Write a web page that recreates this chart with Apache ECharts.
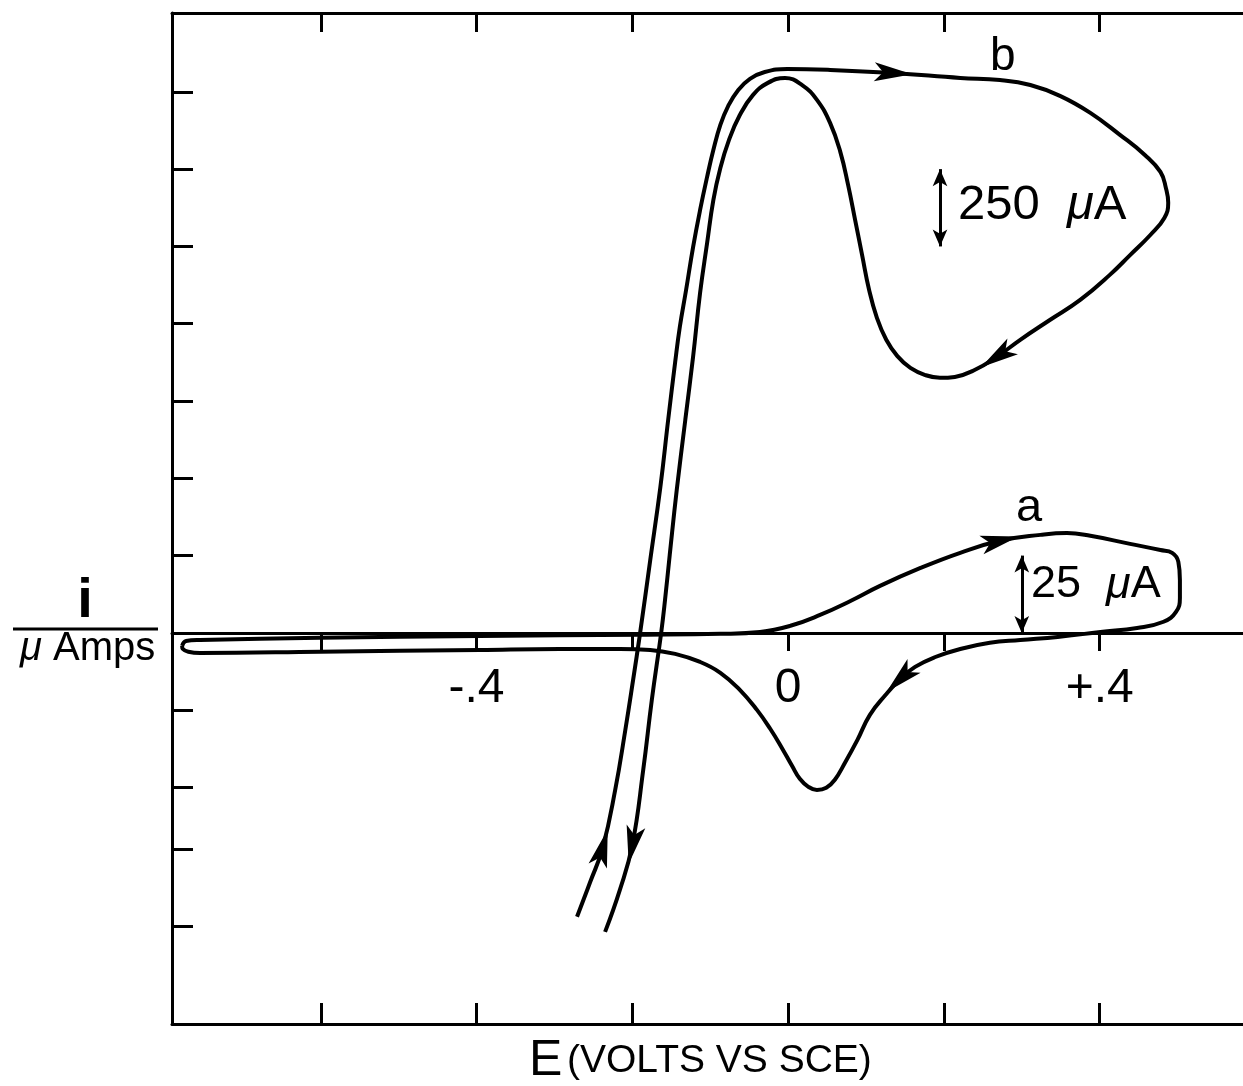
<!DOCTYPE html>
<html><head><meta charset="utf-8">
<script src="https://cdn.jsdelivr.net/npm/echarts@6/dist/echarts.min.js"></script>
<style>html,body{margin:0;padding:0;background:#fff}#c{width:1243px;height:1086px}</style>
</head><body><div id="c"></div>
<script>
// Curve a : current in μA (25 μA per division), potential in V vs SCE
const curveA = [
[-0.778,-4.2],[-0.773,-2.6],[-0.755,-2.3],[-0.601,-1.6],[-0.396,-1.0],[-0.190,-0.6],
[-0.087,-0.3],[-0.036,0.3],[0.003,2.3],[0.041,5.8],[0.080,10.3],[0.118,15.2],
[0.170,21.0],[0.221,25.9],[0.272,29.8],[0.324,31.7],[0.358,32.3],[0.388,31.4],
[0.439,28.8],[0.478,26.8],[0.493,25.9],[0.501,23.0],[0.503,17.1],[0.503,11.3],
[0.498,6.8],[0.482,3.6],[0.448,1.6],[0.401,0.3],[0.346,-1.3],[0.298,-2.3],
[0.259,-3.2],[0.221,-5.2],[0.189,-7.8],[0.163,-11.0],[0.144,-14.9],[0.125,-20.1],
[0.105,-26.5],[0.089,-34.6],[0.073,-42.0],[0.060,-47.5],[0.049,-50.1],[0.037,-50.8],
[0.026,-49.8],[0.015,-47.2],[0.005,-43.0],[-0.008,-37.2],[-0.023,-31.0],[-0.040,-24.9],
[-0.062,-18.4],[-0.087,-12.9],[-0.113,-9.4],[-0.145,-6.8],[-0.177,-5.5],[-0.216,-5.2],
[-0.293,-5.2],[-0.396,-5.5],[-0.601,-6.1],[-0.755,-6.5],[-0.770,-6.1],[-0.777,-5.2],
[-0.778,-4.2]
];
// Curve b : current in μA (250 μA per division)
const curveB = [
[-0.271,-918],[-0.254,-805],[-0.238,-695],[-0.222,-508],[-0.209,-314],[-0.199,-152],
[-0.190,0],[-0.177,236],[-0.164,472],[-0.154,689],[-0.145,876],[-0.139,990],
[-0.131,1109],[-0.122,1248],[-0.113,1368],[-0.104,1475],[-0.096,1562],[-0.087,1643],
[-0.077,1704],[-0.064,1756],[-0.049,1792],[-0.030,1814],[-0.001,1824],[0.054,1821],
[0.135,1811],[0.221,1795],[0.272,1788],[0.311,1772],[0.349,1737],[0.388,1682],
[0.426,1611],[0.458,1546],[0.478,1491],[0.485,1439],[0.488,1391],[0.483,1342],
[0.465,1287],[0.439,1222],[0.413,1158],[0.375,1077],[0.336,1012],[0.298,948],
[0.268,893],[0.240,851],[0.214,828],[0.195,825],[0.176,834],[0.157,857],
[0.140,896],[0.126,948],[0.114,1019],[0.104,1109],[0.095,1222],[0.086,1336],
[0.077,1449],[0.067,1556],[0.054,1649],[0.037,1724],[0.018,1772],[-0.004,1795],
[-0.026,1779],[-0.045,1740],[-0.062,1675],[-0.076,1594],[-0.087,1504],[-0.096,1400],
[-0.104,1261],[-0.113,1100],[-0.122,893],[-0.132,689],[-0.143,462],[-0.152,252],
[-0.158,107],[-0.163,0],[-0.175,-217],[-0.186,-443],[-0.200,-686],[-0.216,-831],
[-0.235,-967]
];
// indices of the points that carry a direction arrow
const arrowIdxA = [14, 34];
const arrowIdxB = [2, 24, 42, 76];
// axis ticks / labels
const xTickValues = [-0.6, -0.4, -0.2, 0, 0.2, 0.4];
const xLabelValues = [-0.4, 0, 0.4];
const yTickValuesA = [175, 150, 125, 100, 75, 50, 25, -25, -50, -70, -95];
// scale bars: [potential, from μA, to μA]
const scaleBarA = [0.300, 0, 25];
const scaleBarB = [0.195, 1250, 1500];

const X_MIN = -0.791, X_MAX = 0.584;
const YA_MIN = -126.5, YA_MAX = 200.5;
const YB_MIN = -1265, YB_MAX = 2005;
const GRID = { left: 172, right: 0, top: 13, bottom: 62 };
const FONT = '"Liberation Sans", Arial, sans-serif';
const BLACK = '#000';

function fmtV(v){ if (Math.abs(v) < 1e-9) return '0'; const s = String(Math.abs(v)).replace(/^0\./, '.'); return (v < 0 ? '-' : '+') + s; }

const chartH = 1086;
const gridH = chartH - GRID.top - GRID.bottom;
const zeroFromBottom = (0 - YA_MIN) / (YA_MAX - YA_MIN) * gridH;

const frameLine = { lineStyle: { color: BLACK, width: 3 } };
const chart = echarts.init(document.getElementById('c'), null, { renderer: 'canvas' });
const arrowPath = 'path://M8,0 L16,34 L8,26 L0,34 Z';

function scaleBar(b){
  return {
    silent: true, symbol: ['arrow', 'arrow'], symbolSize: [11, 17],
    lineStyle: { color: BLACK, width: 3, type: 'solid' }, label: { show: false },
    data: [[{ coord: [b[0], b[1]] }, { coord: [b[0], b[2]] }]]
  };
}
function muText(x, y, pre, post, size){
  return { type: 'text', x: x, y: y, style: {
    text: pre + '{m|μ}' + post, font: size + 'px ' + FONT, fill: BLACK,
    textAlign: 'left', textVerticalAlign: 'middle',
    rich: { m: { fontStyle: 'italic', fontSize: size, fontFamily: FONT, fill: BLACK } } } };
}

const option = {
  animation: false,
  backgroundColor: '#fff',
  grid: Object.assign({ containLabel: false, outerBoundsMode: 'none' }, GRID),
  xAxis: [
    { type: 'value', min: X_MIN, max: X_MAX, position: 'bottom', offset: -zeroFromBottom,
      axisLine: { onZero: false, lineStyle: { color: BLACK, width: 3 } },
      axisTick: { show: true, inside: false, length: 18, customValues: xTickValues, lineStyle: { color: BLACK, width: 3 } },
      axisLabel: { customValues: xLabelValues, formatter: fmtV, fontSize: 48, color: BLACK, fontFamily: FONT, margin: 32 },
      splitLine: { show: false } },
    { type: 'value', min: X_MIN, max: X_MAX, position: 'top',
      axisLine: Object.assign({ onZero: false }, frameLine),
      axisTick: { show: true, inside: true, length: 19, customValues: xTickValues, lineStyle: { color: BLACK, width: 3 } },
      axisLabel: { show: false }, splitLine: { show: false } },
    { type: 'value', min: X_MIN, max: X_MAX, position: 'bottom',
      axisLine: Object.assign({ onZero: false }, frameLine),
      axisTick: { show: true, inside: true, length: 21, customValues: xTickValues, lineStyle: { color: BLACK, width: 3 } },
      axisLabel: { show: false }, splitLine: { show: false } }
  ],
  yAxis: [
    { type: 'value', min: YA_MIN, max: YA_MAX, position: 'left',
      axisLine: Object.assign({ onZero: false }, frameLine),
      axisTick: { show: true, inside: true, length: 21, customValues: yTickValuesA, lineStyle: { color: BLACK, width: 3 } },
      axisLabel: { show: false }, splitLine: { show: false } },
    { type: 'value', min: YB_MIN, max: YB_MAX, show: false, position: 'left',
      axisLine: { onZero: false }, splitLine: { show: false } }
  ],
  series: [
    { name: 'a', type: 'line', xAxisIndex: 0, yAxisIndex: 0, data: curveA, showSymbol: false, symbol: 'none',
      smooth: 0.45, lineStyle: { color: BLACK, width: 4 }, silent: true, z: 3, markLine: scaleBar(scaleBarA) },
    { name: 'b', type: 'line', xAxisIndex: 0, yAxisIndex: 1, data: curveB, showSymbol: false, symbol: 'none',
      smooth: 0.45, lineStyle: { color: BLACK, width: 4 }, silent: true, z: 3, markLine: scaleBar(scaleBarB) }
  ],
  graphic: [
    { type: 'text', x: 990, y: 57, style: { text: 'b', font: '46px ' + FONT, fill: BLACK, textAlign: 'left', textVerticalAlign: 'middle' } },
    { type: 'text', x: 1016, y: 508, style: { text: 'a', font: '47px ' + FONT, fill: BLACK, textAlign: 'left', textVerticalAlign: 'middle' } },
    muText(958, 205, '250  ', 'A', 49),
    muText(1031, 585, '25  ', 'A', 45),
    { type: 'text', x: 85, y: 602, style: { text: 'i', font: 'bold 56px ' + FONT, fill: BLACK, textAlign: 'center', textVerticalAlign: 'middle' } },
    { type: 'line', shape: { x1: 13, y1: 629, x2: 158, y2: 629 }, style: { stroke: BLACK, lineWidth: 3 } },
    muText(20, 649, '', ' Amps', 40),
    { type: 'text', x: 529, y: 1061, style: { text: 'E', font: '50px ' + FONT, fill: BLACK, textAlign: 'left', textVerticalAlign: 'middle' } },
    { type: 'text', x: 567, y: 1061, style: { text: '(VOLTS VS SCE)', font: '39px ' + FONT, fill: BLACK, textAlign: 'left', textVerticalAlign: 'middle' } }
  ]
};
chart.setOption(option);

function arrowData(points, idxs, seriesIndex){
  return idxs.map(function(i){
    const p0 = chart.convertToPixel({ seriesIndex: seriesIndex }, points[i - 1]);
    const p1 = chart.convertToPixel({ seriesIndex: seriesIndex }, points[i + 1]);
    const ang = Math.atan2(-(p1[0] - p0[0]), -(p1[1] - p0[1])) * 180 / Math.PI;
    return { value: points[i], symbolRotate: ang };
  });
}
chart.setOption({
  series: [
    {}, {},
    { name: 'arrowsA', type: 'scatter', xAxisIndex: 0, yAxisIndex: 0, symbol: arrowPath, symbolSize: [19, 38],
      itemStyle: { color: BLACK, opacity: 1 }, silent: true, z: 5, data: arrowData(curveA, arrowIdxA, 0) },
    { name: 'arrowsB', type: 'scatter', xAxisIndex: 0, yAxisIndex: 1, symbol: arrowPath, symbolSize: [19, 38],
      itemStyle: { color: BLACK, opacity: 1 }, silent: true, z: 5, data: arrowData(curveB, arrowIdxB, 1) }
  ]
});
</script>
</body></html>
